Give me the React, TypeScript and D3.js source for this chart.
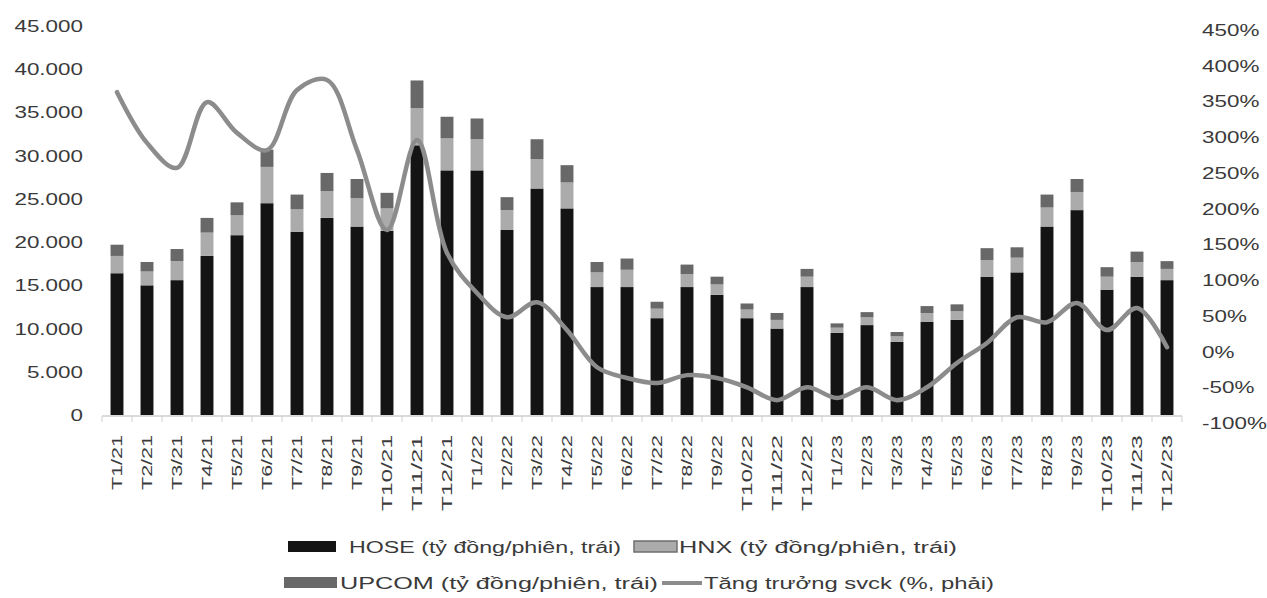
import React from "react";
import * as d3 from "d3";

const categories = [
  "T1/21","T2/21","T3/21","T4/21","T5/21","T6/21","T7/21","T8/21","T9/21","T10/21","T11/21","T12/21",
  "T1/22","T2/22","T3/22","T4/22","T5/22","T6/22","T7/22","T8/22","T9/22","T10/22","T11/22","T12/22",
  "T1/23","T2/23","T3/23","T4/23","T5/23","T6/23","T7/23","T8/23","T9/23","T10/23","T11/23","T12/23",
];
const hose = [
  16400,15000,15600,18400,20800,24500,21200,22800,21800,21300,31200,28300,
  28300,21400,26200,23900,14800,14800,11200,14800,13900,11200,10000,14800,
  9500,10400,8450,10800,11000,16000,16500,21800,23700,14500,16000,15600,
];
const hnx = [
  2000,1600,2200,2700,2300,4200,2600,3100,3300,2600,4300,3700,
  3600,2300,3400,3000,1700,2000,1100,1500,1200,1000,1000,1200,
  600,900,650,1000,1000,1900,1700,2200,2100,1500,1700,1300,
];
const upcom = [
  1300,1100,1400,1700,1500,2000,1700,2100,2200,1800,3200,2500,
  2400,1500,2300,2000,1200,1300,800,1100,900,700,800,900,
  500,600,500,800,800,1400,1200,1500,1500,1100,1200,900,
];
const growth = [
  363,292,257,349,306,282,366,380,282,170,296,138,
  82,48,69,30,-22,-37,-44,-33,-37,-50,-68,-50,
  -65,-50,-68,-50,-16,12,48,41,68,30,61,6,
];
const leftTicks = [0,5000,10000,15000,20000,25000,30000,35000,40000,45000];
const rightTicks = [-100,-50,0,50,100,150,200,250,300,350,400,450];
const seriesNames = ["HOSE (tỷ đồng/phiên, trái)","HNX (tỷ đồng/phiên, trái)","UPCOM (tỷ đồng/phiên, trái)","Tăng trưởng svck (%, phải)"];

const COLORS = { hose: "#141414", hnx: "#ababab", upcom: "#686868", line: "#8c8c8c", text: "#3a3a3a" };
const FONT = "'Liberation Sans', Arial, sans-serif";

export default function App() {
  const W = 1267, H = 598;
  const x = d3.scaleBand<string>().domain(categories).range([102, 1182]).paddingInner(0.57).paddingOuter(0.285);
  const yL = d3.scaleLinear().domain([0, 45000]).range([415, 26]);
  const yR = d3.scaleLinear().domain([-100, 450]).range([423, 30]);
  const fmt = (v: number) => d3.format(",")(v).replace(/,/g, ".");

  const stackData = categories.map((c, i) => ({ cat: c, hose: hose[i], hnx: hnx[i], upcom: upcom[i] }));
  const stack = d3.stack<any>().keys(["hose", "hnx", "upcom"])(stackData);
  const colorOf: Record<string, string> = { hose: COLORS.hose, hnx: COLORS.hnx, upcom: COLORS.upcom };

  const line = d3.line<number>()
    .x((_, i) => (x(categories[i]) as number) + x.bandwidth() / 2)
    .y((d) => yR(d))
    .curve(d3.curveCatmullRom.alpha(0.5));

  const step = x.step();
  const x0 = x(categories[0])! - x.paddingOuter() * step + 0; // left edge of axis
  const tickXs = categories.map((c) => (x(c) as number) - (step - x.bandwidth()) / 2).concat([(x(categories[categories.length - 1]) as number) + x.bandwidth() + (step - x.bandwidth()) / 2]);

  return (
    <svg width={W} height={H} style={{ position: "fixed", left: 0, top: 0, background: "#fff" }} fontFamily={FONT}>
      <rect x={0} y={0} width={W} height={H} fill="#fff" />
      {/* x axis */}
      <line x1={102} x2={1182} y1={416} y2={416} stroke="#cfcfcf" strokeWidth={1.5} />
      {tickXs.map((tx, i) => (
        <line key={"t" + i} x1={tx} x2={tx} y1={416} y2={422} stroke="#cfcfcf" strokeWidth={1} />
      ))}
      {/* bars */}
      {stack.map((s) => (
        <g key={s.key} fill={colorOf[s.key]}>
          {s.map((d, i) => (
            <rect key={i} x={x(categories[i])} width={x.bandwidth()} y={yL(d[1])} height={yL(d[0]) - yL(d[1])} />
          ))}
        </g>
      ))}
      {/* growth line */}
      <path d={line(growth) || ""} fill="none" stroke={COLORS.line} strokeWidth={4.5} strokeLinejoin="round" strokeLinecap="round" />
      {/* left axis labels */}
      {leftTicks.map((t) => (
        <text key={"l" + t} transform={`translate(83,${yL(t)}) scale(1.32,1)`} textAnchor="end" dominantBaseline="central" fontSize={17} fill={COLORS.text}>
          {fmt(t)}
        </text>
      ))}
      {/* right axis labels */}
      {rightTicks.map((t) => (
        <text key={"r" + t} transform={`translate(1202,${yR(t)}) scale(1.32,1)`} textAnchor="start" dominantBaseline="central" fontSize={17} fill={COLORS.text}>
          {t + "%"}
        </text>
      ))}
      {/* x labels */}
      {categories.map((c) => (
        <text key={"x" + c} transform={`translate(${(x(c) as number) + x.bandwidth() / 2},435) rotate(-90)`} textAnchor="end" dominantBaseline="central" fontSize={14} fill={COLORS.text}
          textLength={c.length > 5 ? 76 : 55} lengthAdjust="spacingAndGlyphs">
          {c}
        </text>
      ))}
      {/* legend */}
      <g fontSize={16} fill={COLORS.text}>
        <rect x={288} y={541} width={48} height={11} fill={COLORS.hose} />
        <text x={349} y={547} dominantBaseline="central" textLength={272} lengthAdjust="spacingAndGlyphs">{seriesNames[0]}</text>
        <rect x={634} y={541} width={43} height={11} fill={COLORS.hnx} stroke="#6f6f6f" strokeWidth={1.5} />
        <text x={679} y={547} dominantBaseline="central" textLength={278} lengthAdjust="spacingAndGlyphs">{seriesNames[1]}</text>
        <rect x={284} y={577} width={53} height={11} fill={COLORS.upcom} />
        <text x={340} y={583} dominantBaseline="central" textLength={318} lengthAdjust="spacingAndGlyphs">{seriesNames[2]}</text>
        <line x1={662} x2={702} y1={583} y2={583} stroke={COLORS.line} strokeWidth={4} />
        <text x={704} y={583} dominantBaseline="central" textLength={290} lengthAdjust="spacingAndGlyphs">{seriesNames[3]}</text>
      </g>
    </svg>
  );
}
